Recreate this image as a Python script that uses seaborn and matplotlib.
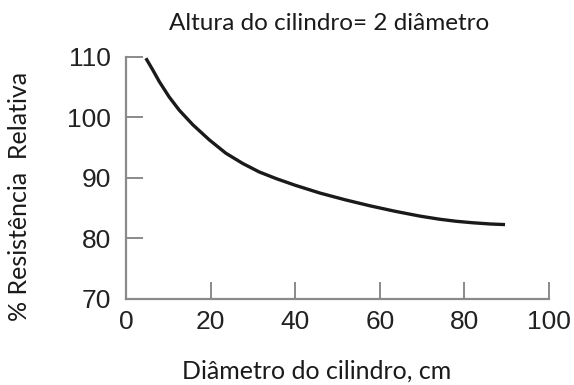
import matplotlib
matplotlib.use("Agg")
import matplotlib.pyplot as plt
import seaborn as sns
import pandas as pd

diametro = [4.7, 6.3, 7.9, 10.2, 12.6, 15.8, 19.7, 23.6, 27.6, 31.5, 35.5,
            40.0, 45.9, 51.8, 57.7, 63.6, 69.5, 74.0, 78.0, 82.0, 86.1, 89.6]
resistencia = [109.8, 107.9, 105.9, 103.4, 101.2, 98.8, 96.3, 94.1, 92.4, 91.0, 89.9,
               88.8, 87.5, 86.4, 85.4, 84.5, 83.7, 83.2, 82.85, 82.6, 82.4, 82.3]
x_ticks = [0, 20, 40, 60, 80, 100]
y_ticks = [70, 80, 90, 100, 110]

titulo = "Altura do cilindro= 2 diâmetro"
xlabel = "Diâmetro do cilindro, cm"
ylabel = "% Resistência  Relativa"

sns.set_theme(style="white")
plt.rcParams['font.family'] = ['Liberation Sans', 'DejaVu Sans']
plt.rcParams['xtick.bottom'] = True
plt.rcParams['ytick.left'] = True

df = pd.DataFrame({"d": diametro, "r": resistencia})

fig = plt.figure(figsize=(5.74, 3.85), dpi=100)
ax = fig.add_axes([126/574, 1 - 299/385, (549 - 126)/574, (299 - 57)/385])

sns.lineplot(data=df, x="d", y="r", ax=ax, color="#1a1a1a", linewidth=2.4,
             solid_capstyle="butt", solid_joinstyle="round")

ax.set_xlim(0, 100)
ax.set_ylim(70, 110)
ax.set_xticks(x_ticks)
ax.set_yticks(y_ticks)
ax.set_xlabel("")
ax.set_ylabel("")

for s in ["top", "right"]:
    ax.spines[s].set_visible(False)
for s in ["left", "bottom"]:
    ax.spines[s].set_color("#8a8a8a")
    ax.spines[s].set_linewidth(1.6)

ax.xaxis.set_tick_params(which="major", direction="in", length=12, width=1.4,
                         color="#8a8a8a", labelsize=19, labelcolor="#222222",
                         bottom=True, pad=8)
ax.yaxis.set_tick_params(which="major", direction="in", length=12, width=1.4,
                         color="#8a8a8a", labelsize=19, labelcolor="#222222",
                         left=True, pad=11)

fig.text(329/574, 1 - 24/385, titulo, ha="center", va="center", fontsize=17.5,
         family=["Lato", "DejaVu Sans"], color="#1a1a1a")
fig.text(317/574, 1 - 371/385, xlabel, ha="center", va="center", fontsize=18,
         family=["Lato", "DejaVu Sans"], color="#1a1a1a")
fig.text(20/574, 1 - 196/385, ylabel, ha="center", va="center", fontsize=18,
         rotation=90, family=["Lato", "DejaVu Sans"], color="#1a1a1a")

fig.savefig("out.png", dpi=100)
